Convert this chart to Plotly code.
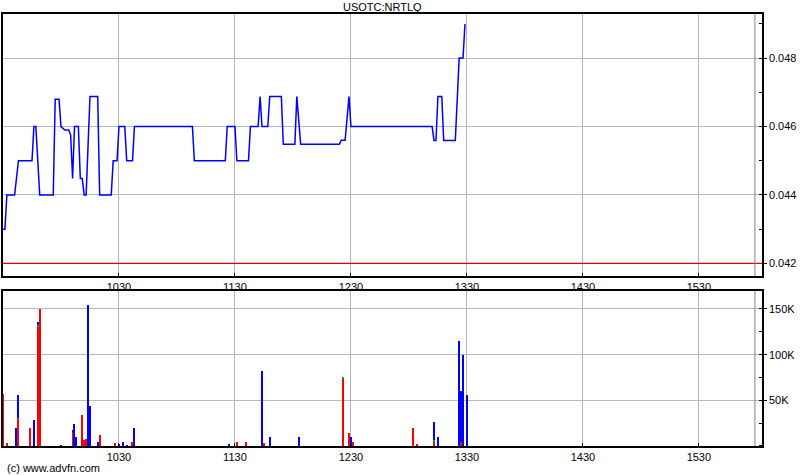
import plotly.graph_objects as go

DAY = "2024-01-02 "

# ---- price line (time HH:MM, price) ----
price_times = ["09:30", "09:31", "09:32", "09:36", "09:38", "09:45", "09:46", "09:47", "09:49",
               "09:56", "09:57", "09:59", "10:00", "10:02", "10:04", "10:05", "10:06", "10:07",
               "10:09", "10:10", "10:11", "10:12", "10:13", "10:15", "10:19", "10:20", "10:26",
               "10:27", "10:29", "10:30", "10:33", "10:34", "10:37", "10:38", "11:08", "11:09",
               "11:25", "11:26", "11:30", "11:31", "11:37", "11:38", "11:42", "11:43", "11:44",
               "11:47", "11:48", "11:54", "11:55", "12:01", "12:02", "12:04", "12:24", "12:25",
               "12:27", "12:29", "12:30", "13:12", "13:13", "13:14", "13:15", "13:17", "13:18",
               "13:24", "13:26", "13:28", "13:29"]
price_values = [0.0430, 0.0430, 0.0440, 0.0440, 0.0450, 0.0450, 0.0460, 0.0460, 0.0440,
                0.0440, 0.0468, 0.0468, 0.0460, 0.0459, 0.0459, 0.04575, 0.04448, 0.0460,
                0.0460, 0.04448, 0.04448, 0.0440, 0.0440, 0.04688, 0.04688, 0.0440, 0.0440,
                0.0450, 0.0450, 0.0460, 0.0460, 0.0450, 0.0450, 0.0460, 0.0460, 0.0450,
                0.0450, 0.0460, 0.0460, 0.0450, 0.0450, 0.0460, 0.0460, 0.04688, 0.0460,
                0.0460, 0.04688, 0.04688, 0.04548, 0.04548, 0.04688, 0.04548, 0.04548, 0.0456,
                0.0456, 0.04688, 0.0460, 0.0460, 0.04559, 0.04559, 0.04688, 0.04688, 0.04559,
                0.04559, 0.0480, 0.0480, 0.0490]

prev_close = 0.042
session_end = "15:59"

# ---- volume bars ----
vol_times = ["09:30", "09:32", "09:37", "09:38", "09:44", "09:46", "09:48", "09:49", "10:00",
             "10:06", "10:07", "10:08", "10:11", "10:12", "10:13", "10:14", "10:15", "10:19",
             "10:20", "10:28", "10:30", "10:32", "10:34", "10:37", "10:38", "11:27", "11:31",
             "11:36", "11:44", "11:45", "11:48", "12:03", "12:26", "12:29", "12:30", "12:31",
             "13:02", "13:04", "13:13", "13:15", "13:26", "13:27", "13:28", "13:30"]
vol_red = [57500, 3700, 0, 30000, 20000, 0, 131000, 150000, 0,
           16000, 0, 0, 34400, 7000, 8000, 0, 0, 0,
           12400, 3700, 0, 0, 0, 4800, 0, 0, 4800,
           4800, 0, 3700, 0, 0, 74700, 14600, 0, 4800,
           20000, 2500, 5500, 0, 0, 4800, 0, 0]
vol_green = [0, 0, 0, 1000, 0, 0, 1500, 0, 0,
             0, 0, 0, 0, 0, 0, 0, 0, 0,
             0, 0, 0, 0, 0, 0, 0, 0, 0,
             0, 0, 0, 0, 0, 1000, 0, 0, 0,
             0, 0, 1000, 0, 0, 0, 0, 0]
vol_blue = [0, 0, 20000, 25000, 0, 29000, 4000, 0, 1800,
            1500, 24500, 10600, 0, 0, 0, 155000, 44000, 4800,
            0, 0, 2500, 4800, 1800, 0, 20000, 2500, 0,
            0, 82700, 0, 10200, 10200, 0, 0, 10200, 0,
            0, 0, 20000, 10200, 115700, 56000, 100000, 56400]

time_ticks = ["10:30", "11:30", "12:30", "13:30", "14:30", "15:30"]
time_tick_text = ["1030", "1130", "1230", "1330", "1430", "1530"]
price_ticks = [0.042, 0.044, 0.046, 0.048]
vol_ticks = [50000, 100000, 150000]
vol_tick_text = ["50K", "100K", "150K"]
title_text = "USOTC:NRTLQ"
credit_text = "(c) www.advfn.com"

px = [DAY + t for t in price_times]
vx = [DAY + t for t in vol_times]

fig = go.Figure()
fig.add_trace(go.Scatter(x=px, y=price_values, mode="lines",
                         line=dict(color="#0000ff", width=1.5), xaxis="x", yaxis="y",
                         showlegend=False, hoverinfo="skip"))
bw = 36000
for vals, col in [(vol_red, "#ff0000"), (vol_green, "#00b000"), (vol_blue, "#0000ff")]:
    fig.add_trace(go.Bar(x=vx, y=vals, marker=dict(color=col, line=dict(width=0)),
                         width=bw, xaxis="x2", yaxis="y2", showlegend=False, hoverinfo="skip"))

xrange = [DAY + "09:30", DAY + "16:02:40"]
font = dict(family="Liberation Sans, Arial, sans-serif", size=11, color="#000000")

xcommon = dict(type="date", range=xrange,
               tickvals=[DAY + t for t in time_ticks], ticktext=time_tick_text,
               showgrid=True, gridcolor="#b4b4b4", gridwidth=1,
               showline=True, linecolor="#000000", linewidth=1.5, mirror=True,
               ticks="inside", ticklen=3, tickcolor="#000000", tickfont=font,
               zeroline=False, automargin=False)

fig.update_layout(
    width=800, height=475,
    margin=dict(l=3, r=38, t=14, b=29, autoexpand=False),
    paper_bgcolor="#ffffff", plot_bgcolor="#ffffff",
    barmode="stack", bargap=0,
    font=font,
    xaxis=dict(xcommon, anchor="y", domain=[0, 1]),
    xaxis2=dict(xcommon, anchor="y2", domain=[0, 1], matches="x"),
    yaxis=dict(domain=[0.3935, 1], range=[0.04163, 0.04929], side="right",
               tickvals=price_ticks, tickformat=".3f", showgrid=True,
               gridcolor="#a9bfc4", gridwidth=1, showline=True, linecolor="#000000",
               linewidth=1.5, mirror=True, ticks="outside", ticklen=3,
               tickcolor="#000000", tickfont=font, zeroline=False, automargin=False,
               minor=dict(dtick=0.001, tick0=0.042, ticks="inside", ticklen=3,
                          tickcolor="#000000", showgrid=False)),
    yaxis2=dict(domain=[0, 0.3595], range=[0, 170000], side="right",
                tickvals=vol_ticks, ticktext=vol_tick_text, showgrid=True,
                gridcolor="#a9bfc4", gridwidth=1, showline=True, linecolor="#000000",
                linewidth=1.5, mirror=True, ticks="outside", ticklen=3,
                tickcolor="#000000", tickfont=font, zeroline=False, automargin=False,
                minor=dict(dtick=25000, tick0=0, ticks="inside", ticklen=3,
                           tickcolor="#000000", showgrid=False)),
    shapes=[
        dict(type="line", xref="x domain", yref="y", x0=0, x1=1,
             y0=prev_close, y1=prev_close, line=dict(color="#e00000", width=1.2)),
        dict(type="line", xref="x", yref="y domain", x0=DAY + session_end, x1=DAY + session_end,
             y0=0, y1=1, line=dict(color="#808080", width=1)),
        dict(type="line", xref="x2", yref="y2 domain", x0=DAY + session_end, x1=DAY + session_end,
             y0=0, y1=1, line=dict(color="#808080", width=1)),
    ],
    annotations=[
        dict(text=title_text, xref="paper", yref="paper", x=0.5, y=1, yshift=7,
             xanchor="center", yanchor="middle", showarrow=False, font=font),
        dict(text=credit_text, xref="paper", yref="paper", x=0, y=0, xshift=2, yshift=-22,
             xanchor="left", yanchor="middle", showarrow=False, font=font),
    ],
)

fig.write_html("out.html", config={"displayModeBar": False},
               post_script="document.body.style.margin='0';document.body.style.overflow='hidden';")
